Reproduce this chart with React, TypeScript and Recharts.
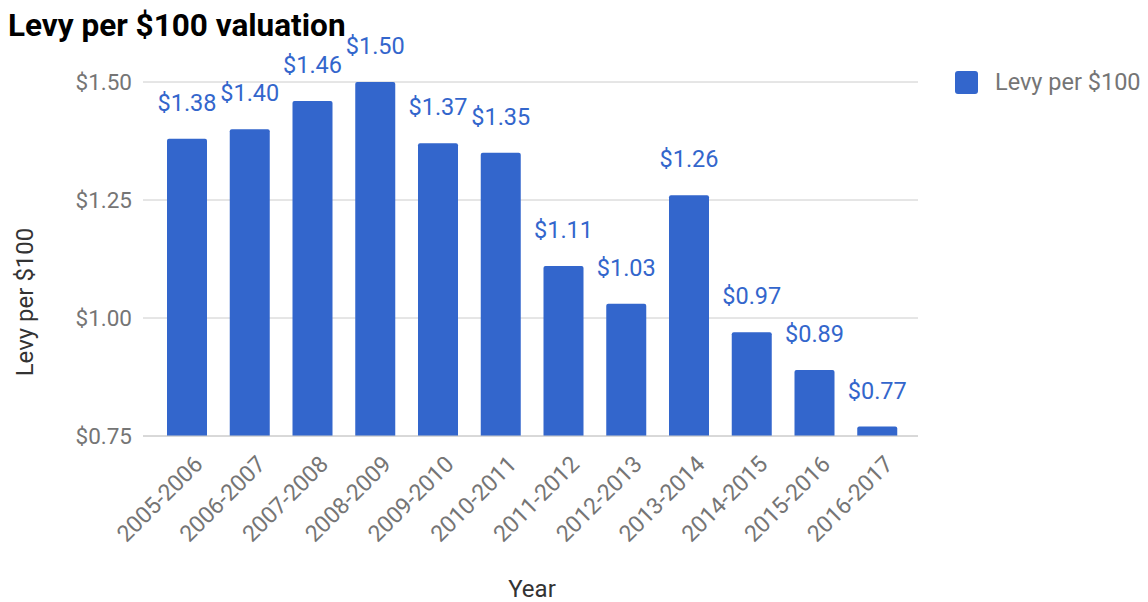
import { BarChart, Bar, XAxis, YAxis, CartesianGrid, Legend, LabelList } from "recharts"

const years = [
  "2005-2006", "2006-2007", "2007-2008", "2008-2009", "2009-2010", "2010-2011",
  "2011-2012", "2012-2013", "2013-2014", "2014-2015", "2015-2016", "2016-2017",
]
const levy = [1.38, 1.4, 1.46, 1.5, 1.37, 1.35, 1.11, 1.03, 1.26, 0.97, 0.89, 0.77]
const yTicks = [0.75, 1.0, 1.25, 1.5]

const data = years.map((year, i) => ({ year, levy: levy[i] }))

const money = (v: number) => `$${v.toFixed(2)}`

const BLUE = "#3366cc"
const GRAY = "#757575"
const FONT = "Roboto, Arial, sans-serif"

function YearTick(props: any) {
  const { x, y, payload } = props
  return (
    <g transform={`translate(${x + 11},${y + 16}) rotate(-45)`}>
      <text textAnchor="end" dy="0.35em" fill={GRAY} fontSize={23} fontFamily={FONT}>
        {payload.value}
      </text>
    </g>
  )
}

function LegendBox(props: any) {
  const { payload } = props
  return (
    <div style={{ fontFamily: FONT }}>
      {payload.map((p: any) => (
        <div key={p.value} style={{ display: "flex", alignItems: "center", height: 24 }}>
          <span style={{ width: 23, height: 23, borderRadius: 3, background: p.color, display: "inline-block" }} />
          <span style={{ marginLeft: 17, fontSize: 23.5, lineHeight: "24px", color: GRAY, whiteSpace: "nowrap" }}>{p.value}</span>
        </div>
      ))}
    </div>
  )
}

export default function App() {
  return (
    <div style={{ position: "absolute", left: 0, top: 0, width: 1148, height: 602, fontFamily: FONT }}>
      <BarChart width={1148} height={602} data={data} margin={{ top: 82, right: 37, bottom: 0, left: 0 }}>
        <CartesianGrid vertical={false} stroke="#cccccc" />
        <XAxis
          dataKey="year"
          height={166}
          axisLine={{ stroke: "#cccccc" }}
          tickLine={false}
          interval={0}
          padding={{ left: 13, right: 9 }}
          tick={<YearTick />}
        />
        <YAxis
          width={143}
          domain={[0.75, 1.5]}
          ticks={yTicks}
          tickFormatter={money}
          axisLine={false}
          tickLine={false}
          tickMargin={5}
          tick={{ fill: GRAY, fontSize: 22.5, fontFamily: FONT }}
        />
        <Legend
          layout="vertical"
          verticalAlign="top"
          align="right"
          content={<LegendBox />}
          wrapperStyle={{ position: "absolute", left: 955, top: 70, width: 193 }}
        />
        <Bar dataKey="levy" name="Levy per $100" fill={BLUE} barSize={40} radius={[2, 2, 0, 0]} isAnimationActive={false}>
          <LabelList dataKey="levy" position="top" offset={28} formatter={(v: any) => money(Number(v))} fill={BLUE} fontSize={23.5} fontFamily={FONT} />
        </Bar>
      </BarChart>
      <div style={{ position: "absolute", left: 8, top: 10, fontSize: 31.5, lineHeight: 1, fontWeight: 700, color: "#000", zIndex: 2, whiteSpace: "nowrap" }}>
        Levy per $100 valuation
      </div>
      <div
        style={{
          position: "absolute", left: 25, top: 302, fontSize: 24, lineHeight: 1, color: "#333", zIndex: 2,
          transform: "translate(-50%, -50%) rotate(-90deg)", whiteSpace: "nowrap",
        }}
      >
        Levy per $100
      </div>
      <div style={{ position: "absolute", left: 532, top: 577, fontSize: 24, lineHeight: 1, color: "#333", zIndex: 2, transform: "translateX(-50%)" }}>
        Year
      </div>
    </div>
  )
}
